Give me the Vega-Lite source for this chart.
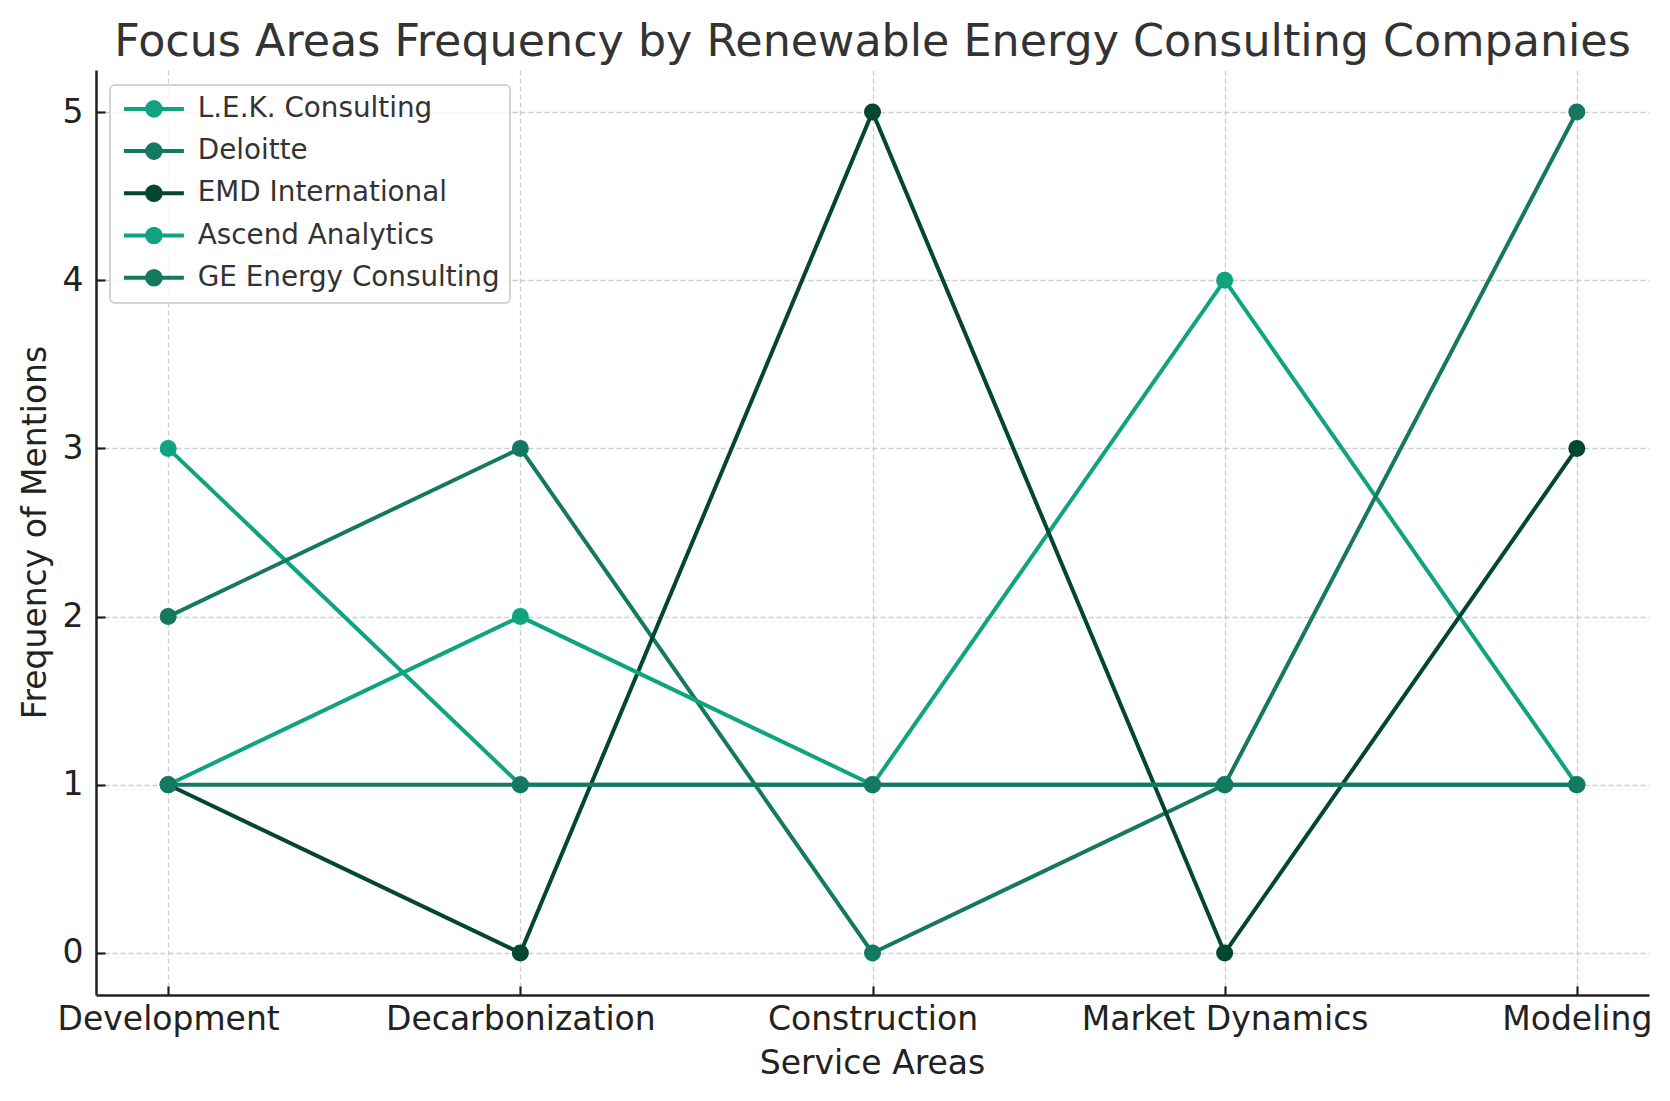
{
  "$schema": "https://vega.github.io/schema/vega-lite/v6.json",
  "width": 1553,
  "height": 925,
  "autosize": {"type": "none"},
  "padding": {"left": 96, "top": 70, "right": 21, "bottom": 106},
  "background": "white",
  "config": {
    "view": {"stroke": null},
    "font": "DejaVu Sans",
    "axis": {
      "labelFont": "DejaVu Sans",
      "titleFont": "DejaVu Sans",
      "labelFontSize": 33,
      "titleFontSize": 33,
      "labelColor": "#222222",
      "titleColor": "#222222",
      "titleFontWeight": "normal",
      "labelLimit": 0,
      "domainColor": "#222222",
      "domainWidth": 2.5,
      "tickColor": "#222222",
      "tickWidth": 2.2,
      "tickSize": -9,
      "gridColor": "#cccccc",
      "gridWidth": 1.3,
      "gridDash": [5, 3]
    },
    "legend": {
      "orient": "none",
      "legendX": 14,
      "legendY": 15,
      "padding": 10,
      "fillColor": "rgba(255,255,255,0.8)",
      "strokeColor": "#d4d4d4",
      "strokeWidth": 2,
      "cornerRadius": 5,
      "labelFont": "DejaVu Sans",
      "labelFontSize": 27.8,
      "labelColor": "#333333",
      "symbolType": "M-3,0L3,0M-0.68,0A0.68,0.68 0 1,0 0.68,0A0.68,0.68 0 1,0 -0.68,0Z",
      "symbolSize": 400,
      "symbolStrokeWidth": 4,
      "symbolOffset": 20,
      "labelOffset": 30,
      "rowPadding": 12.2,
      "labelLimit": 500
    }
  },
  "title": {
    "text": "Focus Areas Frequency by Renewable Energy Consulting Companies",
    "font": "DejaVu Sans",
    "fontSize": 44.4,
    "fontWeight": "normal",
    "color": "#333333",
    "anchor": "middle",
    "offset": 5
  },
  "data": {
    "values": [
      {"company": "L.E.K. Consulting", "area": "Development", "value": 3},
      {"company": "L.E.K. Consulting", "area": "Decarbonization", "value": 1},
      {"company": "L.E.K. Consulting", "area": "Construction", "value": 1},
      {"company": "L.E.K. Consulting", "area": "Market Dynamics", "value": 4},
      {"company": "L.E.K. Consulting", "area": "Modeling", "value": 1},
      {"company": "Deloitte", "area": "Development", "value": 2},
      {"company": "Deloitte", "area": "Decarbonization", "value": 3},
      {"company": "Deloitte", "area": "Construction", "value": 0},
      {"company": "Deloitte", "area": "Market Dynamics", "value": 1},
      {"company": "Deloitte", "area": "Modeling", "value": 5},
      {"company": "EMD International", "area": "Development", "value": 1},
      {"company": "EMD International", "area": "Decarbonization", "value": 0},
      {"company": "EMD International", "area": "Construction", "value": 5},
      {"company": "EMD International", "area": "Market Dynamics", "value": 0},
      {"company": "EMD International", "area": "Modeling", "value": 3},
      {"company": "Ascend Analytics", "area": "Development", "value": 1},
      {"company": "Ascend Analytics", "area": "Decarbonization", "value": 2},
      {"company": "Ascend Analytics", "area": "Construction", "value": 1},
      {"company": "Ascend Analytics", "area": "Market Dynamics", "value": 1},
      {"company": "Ascend Analytics", "area": "Modeling", "value": 1},
      {"company": "GE Energy Consulting", "area": "Development", "value": 1},
      {"company": "GE Energy Consulting", "area": "Decarbonization", "value": 1},
      {"company": "GE Energy Consulting", "area": "Construction", "value": 1},
      {"company": "GE Energy Consulting", "area": "Market Dynamics", "value": 1},
      {"company": "GE Energy Consulting", "area": "Modeling", "value": 1}
    ]
  },
  "encoding": {
    "x": {
      "field": "area",
      "type": "nominal",
      "sort": ["Development", "Decarbonization", "Construction", "Market Dynamics", "Modeling"],
      "scale": {"type": "point", "padding": 0.205},
      "axis": {
        "title": "Service Areas",
        "labelAngle": 0,
        "labelBaseline": "alphabetic",
        "labelPadding": 43,
        "titleBaseline": "alphabetic",
        "titleY": 78,
        "titleX": 776,
        "grid": true
      }
    },
    "y": {
      "field": "value",
      "type": "quantitative",
      "scale": {"domain": [-0.25, 5.25], "nice": false, "zero": false},
      "axis": {
        "title": "Frequency of Mentions",
        "values": [0, 1, 2, 3, 4, 5],
        "labelPadding": 22,
        "titleBaseline": "alphabetic",
        "titleX": -51,
        "titleY": 462,
        "grid": true
      }
    },
    "color": {
      "field": "company",
      "type": "nominal",
      "sort": ["L.E.K. Consulting", "Deloitte", "EMD International", "Ascend Analytics", "GE Energy Consulting"],
      "scale": {
        "domain": ["L.E.K. Consulting", "Deloitte", "EMD International", "Ascend Analytics", "GE Energy Consulting"],
        "range": ["#10a37f", "#147960", "#024731", "#10a37f", "#147960"]
      },
      "legend": {
        "title": null,
        "encode": {
          "symbols": {
            "update": {
              "fill": {"scale": "color", "field": "value"},
              "stroke": {"scale": "color", "field": "value"},
              "strokeWidth": {"value": 4},
              "opacity": {"value": 1}
            }
          }
        }
      }
    }
  },
  "layer": [
    {"mark": {"type": "line", "strokeWidth": 4}},
    {"mark": {"type": "point", "filled": true, "size": 290, "opacity": 1}}
  ]
}
